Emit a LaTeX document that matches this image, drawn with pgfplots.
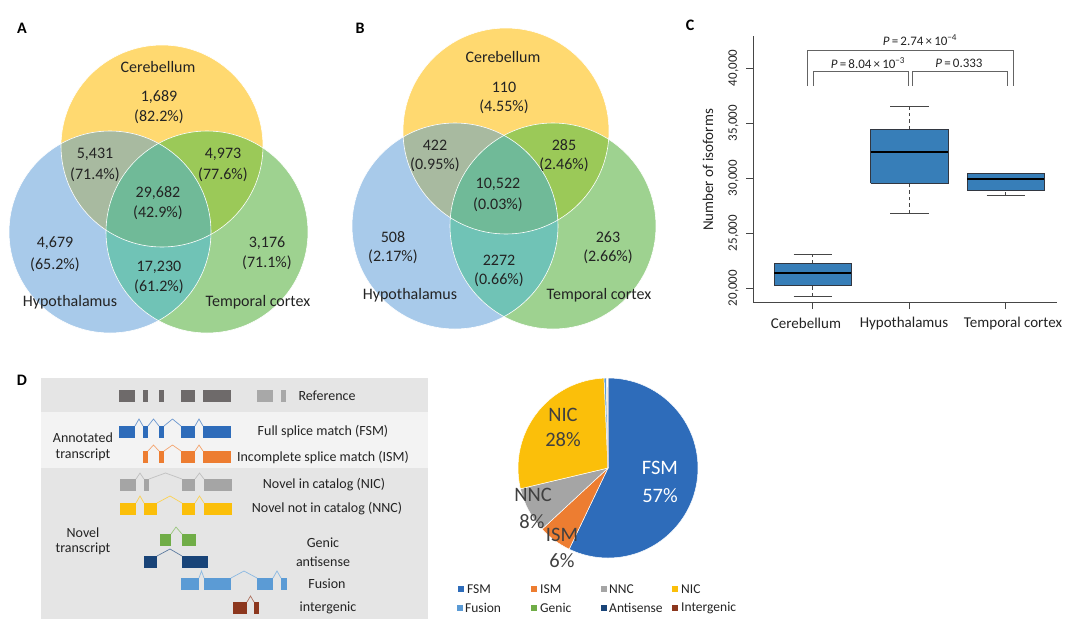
\documentclass[border=0pt]{standalone}
\usepackage{pgfplots}
\pgfplotsset{compat=1.18}
\usepackage{fontspec}
\setmainfont{Carlito}
\newcommand{\fs}[1]{\fontsize{#1pt}{#1pt}\selectfont}
\definecolor{txt}{RGB}{35,35,35}
\definecolor{colY}{RGB}{255,217,112}
\definecolor{colB}{RGB}{168,202,234}
\definecolor{colG}{RGB}{158,210,144}
\definecolor{colYB}{RGB}{168,186,160}
\definecolor{colYG}{RGB}{155,201,88}
\definecolor{colBG}{RGB}{112,195,182}
\definecolor{colYBG}{RGB}{112,186,152}
\definecolor{pFSM}{RGB}{46,108,186}
\definecolor{pISM}{RGB}{237,125,49}
\definecolor{pNNC}{RGB}{165,165,165}
\definecolor{pNIC}{RGB}{251,191,10}
\definecolor{pFus}{RGB}{91,155,213}
\definecolor{pGen}{RGB}{112,173,71}
\definecolor{pAnt}{RGB}{25,68,120}
\definecolor{pInt}{RGB}{140,55,30}
\definecolor{refD}{RGB}{110,106,106}
\definecolor{refL}{RGB}{168,168,168}
\definecolor{bandA}{RGB}{229,229,229}
\definecolor{bandB}{RGB}{243,243,243}
\definecolor{boxblue}{RGB}{55,126,184}
\definecolor{boxedge}{RGB}{50,55,65}
\definecolor{whisk}{RGB}{70,70,70}
\definecolor{brk}{RGB}{100,100,100}
\newcommand{\venn}[7]{%
 \fill[colY] (axis cs:#1,#2) circle[radius=#7pt];
 \fill[colB] (axis cs:#3,#4) circle[radius=#7pt];
 \fill[colG] (axis cs:#5,#6) circle[radius=#7pt];
 \begin{scope}
  \clip (axis cs:#1,#2) circle[radius=#7pt];
  \fill[colYB] (axis cs:#3,#4) circle[radius=#7pt];
  \fill[colYG] (axis cs:#5,#6) circle[radius=#7pt];
 \end{scope}
 \begin{scope}
  \clip (axis cs:#3,#4) circle[radius=#7pt];
  \fill[colBG] (axis cs:#5,#6) circle[radius=#7pt];
  \clip (axis cs:#1,#2) circle[radius=#7pt];
  \fill[colYBG] (axis cs:#5,#6) circle[radius=#7pt];
 \end{scope}
 \draw[white, line width=0.6pt] (axis cs:#1,#2) circle[radius=#7pt];
 \draw[white, line width=0.6pt] (axis cs:#3,#4) circle[radius=#7pt];
 \draw[white, line width=0.6pt] (axis cs:#5,#6) circle[radius=#7pt];
}
% exon: x1 x2 ytop ybot color
\newcommand{\ex}[5]{\fill[#5] (axis cs:#1,#3) rectangle (axis cs:#2,#4);}
% intron: x1 x2 ytop xpeak ypeak color
\newcommand{\intr}[6]{\draw[#6, line width=0.7pt] (axis cs:#1,#3) -- (axis cs:#4,#5) -- (axis cs:#2,#3);}
% pie slice: start% end% color
\newcommand{\slice}[3]{\filldraw[fill=#3, draw=white, line width=0.5pt] (axis cs:608,468) -- ++({90-3.6*#1}:90pt) arc[start angle={90-3.6*#1}, end angle={90-3.6*#2}, radius=90pt] -- cycle;}
% box: pos lw lq med uq uw
\newcommand{\bx}[6]{%
 \pgfmathsetmacro{\xl}{#1-0.4}\pgfmathsetmacro{\xr}{#1+0.4}%
 \pgfmathsetmacro{\cl}{#1-0.2}\pgfmathsetmacro{\cr}{#1+0.2}%
 \edef\doit{%
 \noexpand\addplot[whisk, line width=0.8pt, dash pattern=on 3.5pt off 3pt] coordinates {(#1,#2) (#1,#3)};
 \noexpand\addplot[whisk, line width=0.8pt, dash pattern=on 3.5pt off 3pt] coordinates {(#1,#5) (#1,#6)};
 \noexpand\addplot[whisk, line width=0.8pt] coordinates {(\cl,#2) (\cr,#2)};
 \noexpand\addplot[whisk, line width=0.8pt] coordinates {(\cl,#6) (\cr,#6)};
 \noexpand\addplot[fill=boxblue, draw=boxedge, line width=0.8pt] coordinates {(\xl,#3) (\xr,#3) (\xr,#5) (\xl,#5) (\xl,#3)};
 \noexpand\addplot[black, line width=2pt] coordinates {(\xl,#4) (\xr,#4)};
 }\doit}
\begin{document}
\begin{tikzpicture}
\begin{axis}[at={(0,0)}, anchor=south west, width=1080pt, height=630pt, scale only axis,
  xmin=0, xmax=1080, ymin=0, ymax=630, y dir=reverse, hide axis, clip=false]
\path (axis cs:0,0) rectangle (axis cs:1080,630);
% ---------- Panel A ----------
\venn{162}{146}{110}{232}{207}{232}{101}
\begin{scope}[every node/.style={font=\fs{16}, text=txt, inner sep=0pt}]
\node at (axis cs:158,67) {Cerebellum};
\node at (axis cs:159,97) {1,689};
\node at (axis cs:159,117) {(82.2\%)};
\node at (axis cs:95,154) {5,431};
\node at (axis cs:95,175) {(71.4\%)};
\node at (axis cs:223,154) {4,973};
\node at (axis cs:223,175) {(77.6\%)};
\node at (axis cs:158,193) {29,682};
\node at (axis cs:158,213) {(42.9\%)};
\node at (axis cs:55,243) {4,679};
\node at (axis cs:55,265) {(65.2\%)};
\node at (axis cs:267,243) {3,176};
\node at (axis cs:267,263) {(71.1\%)};
\node at (axis cs:159,267) {17,230};
\node at (axis cs:159,287) {(61.2\%)};
\node at (axis cs:70,302) {Hypothalamus};
\node at (axis cs:258,302) {Temporal cortex};
\end{scope}
% ---------- Panel B ----------
\venn{506}{131}{455}{226}{553}{226}{103}
\begin{scope}[every node/.style={font=\fs{16}, text=txt, inner sep=0pt}]
\node at (axis cs:503,57) {Cerebellum};
\node at (axis cs:504,87) {110};
\node at (axis cs:504,107) {(4.55\%)};
\node at (axis cs:435,145) {422};
\node at (axis cs:435,165) {(0.95\%)};
\node at (axis cs:564,145) {285};
\node at (axis cs:564,165) {(2.46\%)};
\node at (axis cs:498,184) {10,522};
\node at (axis cs:498,205) {(0.03\%)};
\node at (axis cs:393,237) {508};
\node at (axis cs:393,257) {(2.17\%)};
\node at (axis cs:608,237) {263};
\node at (axis cs:608,257) {(2.66\%)};
\node at (axis cs:499,260) {2272};
\node at (axis cs:499,280) {(0.66\%)};
\node at (axis cs:410,295) {Hypothalamus};
\node at (axis cs:599,295) {Temporal cortex};
\end{scope}
% ---------- Panel letters ----------
\node[font=\fs{16}\bfseries, text=black] at (axis cs:22,28) {A};
\node[font=\fs{16}\bfseries, text=black] at (axis cs:360,28) {B};
\node[font=\fs{16}\bfseries, text=black] at (axis cs:690,25) {C};
\node[font=\fs{16}\bfseries, text=black] at (axis cs:22,380) {D};
% ---------- Panel C annotations ----------
\draw[brk, line width=0.8pt] (axis cs:807,86) -- (axis cs:807,50) -- (axis cs:1013,50) -- (axis cs:1013,86);
\draw[brk, line width=0.8pt] (axis cs:813,86) -- (axis cs:813,71) -- (axis cs:908,71) -- (axis cs:908,86);
\draw[brk, line width=0.8pt] (axis cs:912,86) -- (axis cs:912,71) -- (axis cs:1007,71) -- (axis cs:1007,86);
\node[font=\fs{13}, text=txt] at (axis cs:920,40) {\textit{P}\,=\,2.74\,×\,10\textsuperscript{−4}};
\node[font=\fs{13}, text=txt] at (axis cs:868,63) {\textit{P}\,=\,8.04\,×\,10\textsuperscript{−3}};
\node[font=\fs{13}, text=txt] at (axis cs:959,63) {\textit{P}\,=\,0.333};
\node[font=\fs{15}, text=txt, rotate=90] at (axis cs:708,170) {Number of isoforms};
\begin{scope}[every node/.style={font=\fs{15}, text=txt, inner sep=0pt}]
\node at (axis cs:806,323) {Cerebellum};
\node at (axis cs:904,323) {Hypothalamus};
\node at (axis cs:1013,323) {Temporal cortex};
\end{scope}
% ---------- Panel D schematic ----------
\fill[bandA] (axis cs:41,378) rectangle (axis cs:428,412);
\fill[bandB] (axis cs:41,412) rectangle (axis cs:428,468);
\fill[bandA] (axis cs:41,468) rectangle (axis cs:428,619);
% Reference
\ex{119}{135}{390}{402}{refD}\ex{143}{148}{390}{402}{refD}\ex{159}{164}{390}{402}{refD}
\ex{181}{195}{390}{402}{refD}\ex{203}{231}{390}{402}{refD}
\ex{257}{273}{390}{402}{refL}\ex{281}{286}{390}{402}{refL}
% FSM
\ex{119}{135}{426}{438}{pFSM}\ex{143}{148}{426}{438}{pFSM}\ex{159}{164}{426}{438}{pFSM}
\ex{181}{195}{426}{438}{pFSM}\ex{203}{231}{426}{438}{pFSM}
\intr{135}{143}{426}{139}{419}{pFSM!70!white}\intr{148}{159}{426}{153.5}{419}{pFSM!70!white}
\intr{164}{181}{426}{172.5}{419}{pFSM!70!white}\intr{195}{203}{426}{199}{419}{pFSM!70!white}
% ISM
\ex{143}{148}{451}{463}{pISM}\ex{159}{164}{451}{463}{pISM}
\ex{181}{195}{451}{463}{pISM}\ex{203}{231}{451}{463}{pISM}
\intr{148}{159}{451}{153.5}{445}{pISM!70!white}\intr{164}{181}{451}{172.5}{445}{pISM!70!white}
\intr{195}{203}{451}{199}{445}{pISM!70!white}
% NIC
\ex{120}{136}{479}{491}{pNNC}\ex{144}{149}{479}{491}{pNNC}
\ex{182}{195}{479}{491}{pNNC}\ex{204}{232}{479}{491}{pNNC}
\intr{136}{144}{479}{140}{473}{pNNC!70!white}\intr{149}{182}{479}{165.5}{473}{pNNC!70!white}
\intr{195}{204}{479}{199.5}{473}{pNNC!70!white}
% NNC
\ex{120}{136}{503}{515}{pNIC}\ex{144}{157}{503}{515}{pNIC}
\ex{182}{195}{503}{515}{pNIC}\ex{204}{232}{503}{515}{pNIC}
\intr{136}{144}{503}{140}{496}{pNIC!70!white}\intr{157}{182}{503}{170}{496}{pNIC!70!white}
\intr{195}{204}{503}{199.5}{496}{pNIC!70!white}
% Genic
\ex{160}{171}{534}{546}{pGen}\ex{182}{196}{534}{546}{pGen}
\intr{171}{182}{534}{176}{527}{pGen!70!white}
% Antisense
\ex{144}{157}{556}{568}{pAnt}\ex{182}{208}{556}{568}{pAnt}
\intr{157}{182}{556}{170}{549}{pAnt!70!white}
% Fusion
\ex{181}{199}{578}{590}{pFus}\ex{204}{231}{578}{590}{pFus}
\ex{257}{273}{578}{590}{pFus}\ex{281}{287}{578}{590}{pFus}
\intr{199}{204}{578}{201.5}{571}{pFus!70!white}\intr{231}{257}{578}{244}{571}{pFus!70!white}
\intr{273}{281}{578}{277}{571}{pFus!70!white}
% Intergenic
\ex{233}{247}{602}{614}{pInt}\ex{254}{259}{602}{614}{pInt}
\intr{247}{254}{602}{250.5}{596}{pInt!70!white}
\begin{scope}[every node/.style={font=\fs{14}, text=txt, inner sep=0pt}]
\node at (axis cs:327,396) {Reference};
\node at (axis cs:323,432) {Full splice match (FSM)};
\node at (axis cs:323,457) {Incomplete splice match (ISM)};
\node at (axis cs:324,485) {Novel in catalog (NIC)};
\node at (axis cs:327,509) {Novel not in catalog (NNC)};
\node at (axis cs:323,543) {Genic};
\node at (axis cs:323,562) {antisense};
\node at (axis cs:327,584) {Fusion};
\node at (axis cs:328,608) {intergenic};
\node at (axis cs:83,438) {Annotated};
\node at (axis cs:83,455) {transcript};
\node at (axis cs:83,533) {Novel};
\node at (axis cs:83,549) {transcript};
\end{scope}
% ---------- Pie (cumulative percentages) ----------
\slice{0}{57.1}{pFSM}
\slice{57.1}{63.1}{pISM}
\slice{63.1}{71.3}{pNNC}
\slice{71.3}{99.3}{pNIC}
\slice{99.3}{99.7}{pFus}
\slice{99.7}{99.8}{pGen}
\slice{99.8}{99.9}{pAnt}
\slice{99.9}{100}{pInt}
\begin{scope}[every node/.style={font=\fs{20.5}, inner sep=0pt}]
\node[text=white] at (axis cs:660,468) {FSM};
\node[text=white] at (axis cs:660,496) {57\%};
\node[text={rgb,255:red,64;green,64;blue,64}] at (axis cs:563,415) {NIC};
\node[text={rgb,255:red,64;green,64;blue,64}] at (axis cs:563,440) {28\%};
\node[text={rgb,255:red,64;green,64;blue,64}] at (axis cs:533,495) {NNC};
\node[text={rgb,255:red,64;green,64;blue,64}] at (axis cs:532,522) {8\%};
\node[text={rgb,255:red,64;green,64;blue,64}] at (axis cs:562,535) {ISM};
\node[text={rgb,255:red,64;green,64;blue,64}] at (axis cs:562,561) {6\%};
\end{scope}
% legend
\fill[pFSM] (axis cs:458,586) rectangle (axis cs:464,592);
\fill[pISM] (axis cs:531,586) rectangle (axis cs:537,592);
\fill[pNNC] (axis cs:601,586) rectangle (axis cs:607,592);
\fill[pNIC] (axis cs:672,586) rectangle (axis cs:678,592);
\fill[pFus] (axis cs:457,605) rectangle (axis cs:463,611);
\fill[pGen] (axis cs:531,605) rectangle (axis cs:537,611);
\fill[pAnt] (axis cs:601,605) rectangle (axis cs:607,611);
\fill[pInt] (axis cs:672,605) rectangle (axis cs:678,611);
\begin{scope}[every node/.style={font=\fs{13.5}, text=txt, inner sep=0pt, anchor=west}]
\node at (axis cs:467,589) {FSM};
\node at (axis cs:540,589) {ISM};
\node at (axis cs:609,589) {NNC};
\node at (axis cs:681,589) {NIC};
\node at (axis cs:465,608) {Fusion};
\node at (axis cs:540,608) {Genic};
\node at (axis cs:609,608) {Antisense};
\node at (axis cs:681,608) {Intergenic};
\end{scope}
\end{axis}
% ---------- Panel C boxplot ----------
\begin{axis}[at={(753pt,328pt)}, anchor=south west, width=304pt, height=266pt, scale only axis,
  xmin=0.38, xmax=3.53, ymin=18730, ymax=42900,
  axis lines=left, axis line style={-, draw=whisk, line width=0.8pt},
  tick align=outside, major tick length=7pt, tick style={draw=whisk, line width=0.8pt},
  xtick={1,2,3}, xticklabels={}, 
  ytick={20000,25000,30000,35000,40000}, scaled y ticks=false,
  yticklabel style={xshift=-4pt, rotate=90, anchor=south, font=\fs{13}, text=txt},
  yticklabel={\pgfmathprintnumber[1000 sep={,}, assume math mode=true]{\tick}},
  clip=false]
% position, lower whisker, lower quartile, median, upper quartile, upper whisker
\bx{1}{19273}{20273}{21364}{22273}{23090}
\bx{2}{26788}{29518}{32336}{34427}{36485}
\bx{3}{28394}{28909}{29879}{30394}{30455}
\end{axis}
\end{tikzpicture}
\end{document}
